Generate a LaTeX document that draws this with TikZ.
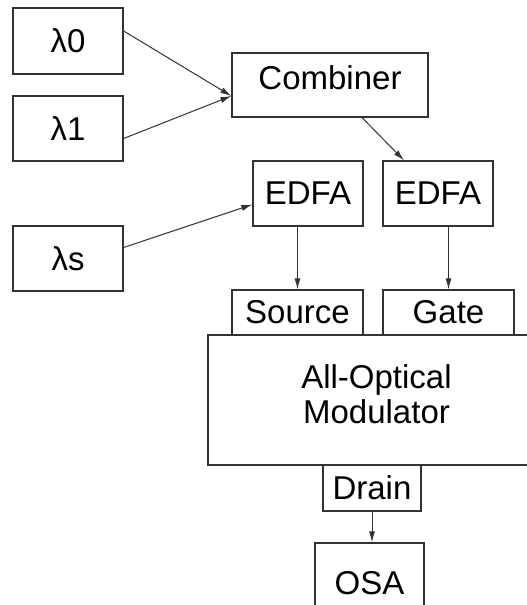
\documentclass[tikz,border=0pt]{standalone}
\usepackage{fontspec}
\setmainfont{Liberation Sans}
\usetikzlibrary{arrows.meta}

\definecolor{linegray}{RGB}{50,50,50}
\tikzset{every picture/.style={line width=1.2pt}}
\tikzset{
  blk/.style={draw=linegray, inner sep=0pt, font=\fontsize{33}{35}\selectfont},
  conn/.style={draw=linegray, line width=1pt, -{Latex[length=11pt,width=6pt]}}
}

\begin{document}
\begin{tikzpicture}[x=1pt,y=1pt,yscale=-1,xscale=1]
\clip (0,0) rectangle (527,605);
\useasboundingbox (0,0) rectangle (527,605);

% laser sources
\node (lam0) at (68,41) [blk, minimum width=110, minimum height=66] {λ0};
\node (lam1) at (68,128.5) [blk, minimum width=110, minimum height=65] {λ1};
\node (lams) at (68,258.5) [blk, minimum width=110, minimum height=65] {λs};

% combiner and amplifiers
\node (comb) at (330,85) [blk, minimum width=196, minimum height=64, text height=24pt, text depth=16pt] {Combiner};
\node (edfa1) at (308,193.5) [blk, minimum width=110, minimum height=65] {EDFA};
\node (edfa2) at (438,193.5) [blk, minimum width=110, minimum height=65] {EDFA};

% modulator with its ports
\node (src) at (297.5,312.5) [blk, minimum width=131, minimum height=45] {Source};
\node (gate) at (448.5,312.5) [blk, minimum width=131, minimum height=45] {Gate};
\node (mod) at (376.5,400) [blk, minimum width=337, minimum height=130, align=center] {All-Optical\\Modulator\rule[-11pt]{0pt}{11pt}};
\node (drain) at (372,488) [blk, minimum width=98, minimum height=46] {Drain};
\node (osa) at (369.5,583) [blk, minimum width=109, minimum height=80] {OSA};

% Straight Lines (y runs downwards, so shifts are flipped)
\draw [conn] ([yshift=-10pt]lam0.east) -- ([yshift=11pt]comb.west);
\draw [conn] ([yshift=10pt]lam1.east) -- ([yshift=11pt]comb.west);
\draw [conn] ([yshift=-11pt]lams.east) -- ([yshift=11pt]edfa1.west);
\draw [conn] ([xshift=32pt]comb.south) -- ([xshift=-34pt]edfa2.north);
\draw [conn] (src.north |- edfa1.south) -- (src.north);
\draw [conn] (gate.north |- edfa2.south) -- (gate.north);
\draw [conn] (drain.south) -- (drain.south |- osa.north);

\end{tikzpicture}
\end{document}
